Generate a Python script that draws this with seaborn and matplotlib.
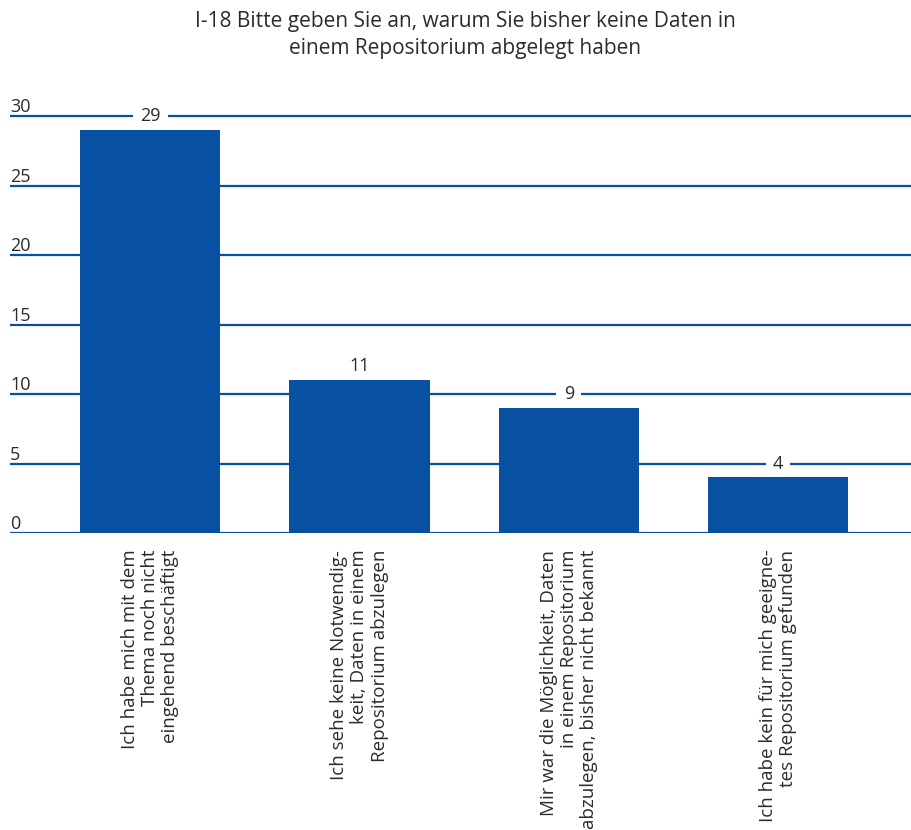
import matplotlib
matplotlib.use("Agg")
import matplotlib.pyplot as plt
import matplotlib.transforms as mtransforms
import seaborn as sns
import pandas as pd

# Chart data
categories = [
    "Ich habe mich mit dem\nThema noch nicht\neingehend beschäftigt",
    "Ich sehe keine Notwendig-\nkeit, Daten in einem\nRepositorium abzulegen",
    "Mir war die Möglichkeit, Daten\nin einem Repositorium\nabzulegen, bisher nicht bekannt",
    "Ich habe kein für mich geeigne-\ntes Repositorium gefunden",
]
counts = [29, 11, 9, 4]
y_ticks = [0, 5, 10, 15, 20, 25, 30]
title = "I-18 Bitte geben Sie an, warum Sie bisher keine Daten in\neinem Repositorium abgelegt haben"

BLUE = "#0850a1"
TEXT = "#2b2b2b"

sns.set_theme(style="white")
plt.rcParams['font.family'] = ['Open Sans', 'DejaVu Sans']

df = pd.DataFrame({"reason": categories, "count": counts})

fig = plt.figure(figsize=(9.12, 8.30), dpi=100)
ax = fig.add_axes([10 / 912, 1 - 533 / 830, 902 / 912, (533 - 108) / 830])

sns.barplot(data=df, x="reason", y="count", color=BLUE, saturation=1,
            width=0.67, linewidth=0, edgecolor="none", ax=ax, zorder=3)

ax.set_xlim(-0.67, 3.64)
ax.set_ylim(0, 30.6)
ax.set_yticks(y_ticks)
ax.set_yticklabels([])
ax.tick_params(axis="both", length=0)
ax.yaxis.grid(True, color=BLUE, linewidth=1.6)
ax.set_axisbelow(True)
for s in ax.spines.values():
    s.set_visible(False)

# y tick labels sit above the gridlines, at the left edge
trans = mtransforms.blended_transform_factory(ax.transAxes, ax.transData)
for t in y_ticks:
    ax.text(0.0, t, str(t), transform=trans, ha="left", va="bottom",
            fontsize=13, color=TEXT)

# value labels with white background interrupting the gridlines
# (drawn under the bars so the box never bites into a bar top)
for i, v in enumerate(counts):
    ax.annotate(str(v), xy=(i, v), xytext=(0, 10), textcoords="offset points",
                ha="center", va="center", fontsize=13, color=TEXT, zorder=2,
                bbox=dict(boxstyle="square,pad=0.4", fc="white", ec="none"))

ax.set_xlabel("")
ax.set_ylabel("")
ax.set_xticks(range(len(categories)))
ax.set_xticklabels(categories, rotation=90, ha="center", va="top",
                   multialignment="right", fontsize=13.5, color=TEXT,
                   linespacing=1.15)
ax.tick_params(axis="x", pad=12)

fig.text(0.51, 0.958, title, ha="center", va="center", fontsize=15,
         color=TEXT, linespacing=1.4)

fig.savefig("out.png", dpi=100, facecolor="white")
